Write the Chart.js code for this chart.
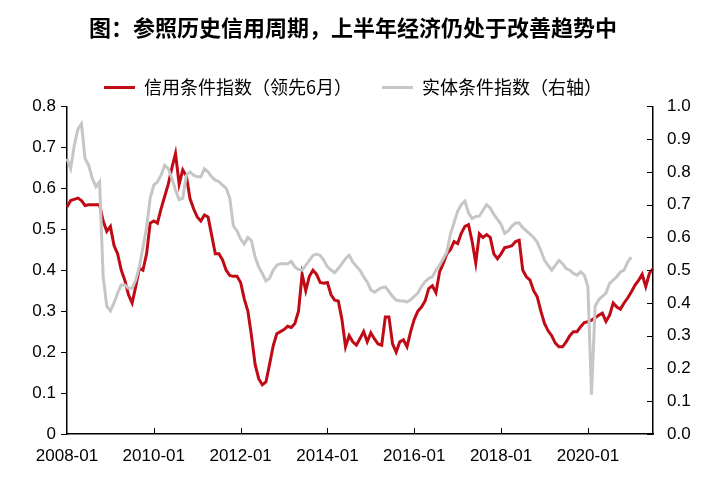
<!DOCTYPE html>
<html>
<head>
<meta charset="utf-8">
<script src="https://cdn.jsdelivr.net/npm/chart.js@4"></script>
<style>
  body { margin: 0; background: #fff; }
  #wrap { width: 706px; height: 480px; }
</style>
</head>
<body>
<div id="wrap"><canvas id="chart"></canvas></div>
<script>
// 月度数据，2008-01 到 2021-07
const months = [];
for (let y = 2008; y <= 2021; y++) {
  for (let m = 1; m <= 12; m++) {
    if (y === 2021 && m > 7) break;
    months.push(y + '-' + String(m).padStart(2, '0'));
  }
}

// 信用条件指数（领先6月），左轴
const creditIndex = [
  0.554, 0.57, 0.573, 0.576, 0.57, 0.558, 0.56, 0.56, 0.56, 0.56, 0.52, 0.495,
  0.507, 0.46, 0.44, 0.40, 0.375, 0.34, 0.32, 0.36, 0.405, 0.40, 0.44, 0.515,
  0.52, 0.515, 0.55, 0.58, 0.61, 0.65, 0.685, 0.61, 0.645, 0.63, 0.575, 0.55,
  0.53, 0.52, 0.535, 0.53, 0.485, 0.44, 0.44, 0.425, 0.40, 0.387, 0.385, 0.385,
  0.37, 0.33, 0.30, 0.24, 0.17, 0.135, 0.12, 0.127, 0.17, 0.215, 0.245, 0.25,
  0.255, 0.263, 0.26, 0.27, 0.30, 0.39, 0.35, 0.385, 0.40, 0.39, 0.37, 0.368,
  0.37, 0.34, 0.327, 0.325, 0.28, 0.213, 0.24, 0.225, 0.217, 0.233, 0.25, 0.225,
  0.247, 0.232, 0.22, 0.217, 0.286, 0.286, 0.22, 0.20, 0.225, 0.23, 0.213, 0.25,
  0.28, 0.30, 0.31, 0.325, 0.355, 0.362, 0.345, 0.396, 0.416, 0.44, 0.45, 0.47,
  0.465, 0.49, 0.507, 0.511, 0.47, 0.418, 0.489, 0.48, 0.487, 0.48, 0.44, 0.428,
  0.44, 0.455, 0.457, 0.46, 0.47, 0.473, 0.40, 0.384, 0.376, 0.35, 0.335, 0.30,
  0.27, 0.252, 0.24, 0.222, 0.213, 0.213, 0.225, 0.24, 0.25, 0.25, 0.262, 0.272,
  0.274, 0.278, 0.284, 0.29, 0.295, 0.275, 0.29, 0.32, 0.31, 0.305, 0.32, 0.332,
  0.347, 0.363, 0.375, 0.39, 0.36, 0.392, 0.404
];

// 实体条件指数，右轴（到2021-01）
const realIndex = [
  0.84, 0.81, 0.88, 0.93, 0.947, 0.84, 0.82, 0.78, 0.755, 0.77, 0.48, 0.39,
  0.376, 0.40, 0.43, 0.455, 0.455, 0.445, 0.445, 0.47, 0.51, 0.57, 0.63, 0.72,
  0.76, 0.77, 0.79, 0.82, 0.81, 0.78, 0.745, 0.715, 0.72, 0.79, 0.80, 0.79,
  0.785, 0.785, 0.81, 0.80, 0.785, 0.775, 0.77, 0.76, 0.75, 0.72, 0.635, 0.62,
  0.595, 0.58, 0.60, 0.59, 0.54, 0.51, 0.49, 0.467, 0.475, 0.50, 0.515, 0.52,
  0.52, 0.52, 0.527, 0.51, 0.502, 0.50, 0.515, 0.53, 0.545, 0.549, 0.545, 0.53,
  0.51, 0.50, 0.492, 0.505, 0.52, 0.535, 0.546, 0.525, 0.512, 0.50, 0.48, 0.464,
  0.44, 0.433, 0.44, 0.447, 0.449, 0.435, 0.42, 0.409, 0.407, 0.406, 0.403, 0.41,
  0.42, 0.43, 0.45, 0.465, 0.475, 0.48, 0.50, 0.515, 0.535, 0.555, 0.61, 0.645,
  0.68, 0.70, 0.711, 0.675, 0.657, 0.664, 0.665, 0.683, 0.70, 0.69, 0.67, 0.655,
  0.64, 0.612, 0.62, 0.635, 0.644, 0.644, 0.63, 0.62, 0.61, 0.60, 0.585, 0.56,
  0.53, 0.515, 0.50, 0.515, 0.53, 0.52, 0.505, 0.50, 0.49, 0.485, 0.495, 0.485,
  0.45, 0.12, 0.39, 0.41, 0.42, 0.43, 0.46, 0.47, 0.48, 0.495, 0.50, 0.525,
  0.54
];

const cjk = '"Noto Sans CJK SC", "Noto Sans", sans-serif';
const num = '"Liberation Sans", Arial, sans-serif';

// 右轴和横轴的刻度线朝内
const innerTicks = {
  id: 'innerTicks',
  afterDraw(chart) {
    const { ctx, chartArea, scales } = chart;
    ctx.save();
    ctx.strokeStyle = '#000';
    ctx.lineWidth = 1;
    scales.y1.ticks.forEach((t, i) => {
      const py = Math.round(scales.y1.getPixelForTick(i)) + 0.5;
      ctx.beginPath();
      ctx.moveTo(chartArea.right - 6, py);
      ctx.lineTo(chartArea.right, py);
      ctx.stroke();
    });
    months.forEach((m, i) => {
      if (i % 24 !== 0 || i === 0) return;
      const px = Math.round(scales.x.getPixelForValue(i)) + 0.5;
      ctx.beginPath();
      ctx.moveTo(px, chartArea.bottom);
      ctx.lineTo(px, chartArea.bottom - 6);
      ctx.stroke();
    });
    ctx.restore();
  }
};

new Chart(document.getElementById('chart'), {
  type: 'line',
  data: {
    labels: months,
    datasets: [
      {
        label: '信用条件指数（领先6月）',
        data: creditIndex,
        borderColor: '#C00A16',
        backgroundColor: '#C00A16',
        borderWidth: 3,
        pointRadius: 0,
        tension: 0,
        yAxisID: 'y',
        order: 1
      },
      {
        label: '实体条件指数（右轴）',
        data: realIndex,
        borderColor: '#C6C6C6',
        backgroundColor: '#C6C6C6',
        borderWidth: 3,
        pointRadius: 0,
        tension: 0,
        yAxisID: 'y1',
        order: 0
      }
    ]
  },
  options: {
    responsive: true,
    maintainAspectRatio: false,
    animation: false,
    layout: { padding: { left: 0, right: 0, top: 0, bottom: 0 } },
    plugins: {
      title: {
        display: true,
        text: '图：参照历史信用周期，上半年经济仍处于改善趋势中',
        color: '#000',
        font: { family: cjk, size: 22, weight: 'bold' },
        padding: { top: 14, bottom: 8 }
      },
      legend: {
        display: true,
        labels: {
          color: '#000',
          font: { family: cjk, size: 18 },
          usePointStyle: true,
          pointStyle: 'line',
          pointStyleWidth: 31,
          padding: 30,
          sort: (a, b) => a.datasetIndex - b.datasetIndex
        }
      },
      tooltip: { enabled: false }
    },
    scales: {
      x: {
        type: 'category',
        offset: false,
        grid: { display: true, drawOnChartArea: false, drawTicks: false },
        border: { display: true, color: '#000', width: 1.5 },
        ticks: {
          autoSkip: false,
          maxRotation: 0,
          minRotation: 0,
          padding: 12,
          color: '#000',
          font: { family: num, size: 17 },
          callback: (v, i) => (i % 24 === 0 ? months[i] : '')
        },
        afterFit: s => { s.height = 46; }
      },
      y: {
        position: 'left',
        min: 0,
        max: 0.8,
        grid: { display: true, drawOnChartArea: false, tickLength: 6, color: '#000' },
        border: { display: true, color: '#000', width: 1.5 },
        ticks: {
          stepSize: 0.1,
          padding: 5,
          color: '#000',
          font: { family: num, size: 17 },
          callback: v => (v === 0 ? '0' : v.toFixed(1))
        },
        afterFit: s => { s.width = 67; }
      },
      y1: {
        position: 'right',
        min: 0,
        max: 1.0,
        grid: { display: true, drawOnChartArea: false, drawTicks: false },
        border: { display: true, color: '#000', width: 1.5 },
        ticks: {
          stepSize: 0.1,
          padding: 14,
          color: '#000',
          font: { family: num, size: 17 },
          callback: v => v.toFixed(1)
        },
        afterFit: s => { s.width = 53; }
      }
    }
  },
  plugins: [innerTicks]
});
</script>
</body>
</html>
